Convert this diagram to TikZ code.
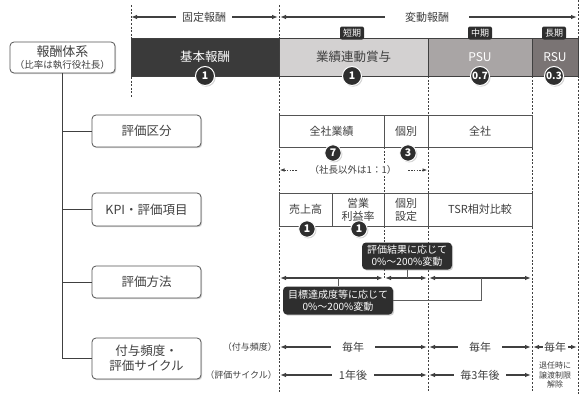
\documentclass[tikz,border=0pt]{standalone}
\usepackage{fontspec}
\setmainfont{Noto Sans CJK JP}
\usetikzlibrary{arrows.meta,shadows}
\definecolor{ink}{HTML}{404040}
\definecolor{barA}{HTML}{3A3A3A}
\definecolor{barB}{HTML}{D3D1D1}
\definecolor{barC}{HTML}{A9A5A5}
\definecolor{barD}{HTML}{7A7474}
\definecolor{dk}{HTML}{2E2E2E}
\newcommand{\fs}[1]{\fontsize{#1}{\dimexpr #1pt*6/5\relax}\selectfont}
\tikzset{
  guide/.style={draw=ink, line width=0.9pt, dash pattern=on 2pt off 1.6pt},
  arr/.style={{Latex[length=6pt,width=4.5pt]}-{Latex[length=6pt,width=4.5pt]}, line width=1.1pt, draw=ink},
  darr/.style={{Latex[length=4.5pt,width=3.5pt]}-{Latex[length=4.5pt,width=3.5pt]}, line width=0.6pt, draw=ink, dash pattern=on 1.5pt off 1.2pt},
  gap/.style={fill=white, inner ysep=1pt, text=ink},
  lbox/.style={draw=ink!90, line width=0.8pt, rounded corners=4pt, fill=white, align=center, text=ink, inner sep=0pt,
     drop shadow={opacity=0.35, shadow xshift=1.2pt, shadow yshift=-1.2pt}},
  seg/.style={draw=ink, line width=0.8pt, inner sep=0pt, minimum height=38pt, font=\fs{12.5}},
  cell/.style={draw=ink!90, line width=0.8pt, fill=white, inner sep=0pt, align=center, text=ink, font=\fs{11}},
  circ/.style={circle, fill=dk, draw=white, line width=1pt, text=white, font=\bfseries\fs{10.5}, inner sep=0pt,
     drop shadow={opacity=0.35, shadow xshift=1.2pt, shadow yshift=-1.2pt}},
  badge/.style={rounded corners=2pt, fill=dk, text=white, font=\fs{9}, inner sep=0pt, minimum width=24pt, minimum height=13pt},
  callout/.style={rounded corners=4pt, fill=dk, text=white, align=center, inner sep=0pt, font=\fs{10},
     drop shadow={opacity=0.35, shadow xshift=1.2pt, shadow yshift=-1.2pt}},
  conn/.style={draw=ink!85, line width=1pt},
  tree/.style={draw=ink, line width=1pt},
}
\begin{document}
\begin{tikzpicture}[x=1pt,y=-1pt]
\useasboundingbox (0,0) rectangle (587,402);

% vertical guide lines
\coordinate (g1t) at (131,5);   \coordinate (g1b) at (131,97);
\coordinate (g2t) at (279,5);   \coordinate (g2b) at (279,392);
\coordinate (g3t) at (428,76);  \coordinate (g3b) at (428,392);
\coordinate (g4t) at (532,76);  \coordinate (g4b) at (532,392);
\coordinate (g5t) at (578,0);   \coordinate (g5b) at (578,395);
\coordinate (g6t) at (384,147); \coordinate (g6b) at (384,193);
\coordinate (g7t) at (384,226); \coordinate (g7b) at (384,278);
\foreach \a/\b in {g1t/g1b,g2t/g2b,g3t/g3b,g4t/g4b,g5t/g5b,g6t/g6b,g7t/g7b}
  \draw[guide] (\a) -- (\b);

% top arrows
\coordinate (fa) at (131,17); \coordinate (fb) at (278,17);
\coordinate (va) at (280,17); \coordinate (vb) at (577,17);
\draw[arr] (fa) -- (fb);
\draw[arr] (va) -- (vb);
\node[gap, inner xsep=6pt, font=\fs{11}] (tf) at (204,17) {固定報酬};
\node[gap, inner xsep=20pt, font=\fs{11}] (tv) at (427,17) {変動報酬};

% bar
\node[seg, fill=barA, text=white, minimum width=148pt] (s1) at (205,57) {基本報酬};
\node[seg, fill=barB, text=ink, minimum width=149pt] (s2) at (353.5,57) {業績連動賞与};
\node[seg, fill=barC, text=white, minimum width=104pt, font=\fs{12}] (s3) at (480,57) {PSU};
\node[seg, fill=barD, text=white, minimum width=46pt, font=\fs{12}] (s4) at (555,57) {RSU};
\node[badge] (k1) at (352,33) {短期};
\node[badge] (k2) at (480,33) {中期};
\node[badge] (k3) at (554,33) {長期};
\node[circ, minimum size=19pt] (c1) at (205,76) {1};
\node[circ, minimum size=19pt] (c2) at (352,76) {1};
\node[circ, minimum size=19pt, font=\bfseries\fs{10}] (c3) at (480,76) {0.7};
\node[circ, minimum size=19pt, font=\bfseries\fs{10}] (c4) at (554,76) {0.3};

% left tree
\node[lbox, minimum width=105pt, minimum height=31pt] (hb) at (62.5,57.5)
  {{\fs{13}報酬体系}\\[0pt]{\fs{9.5}（比率は執行役社長）}};
\node[lbox, minimum width=109pt, minimum height=32pt, font=\fs{12.5}] (b1) at (146.5,131) {評価区分};
\node[lbox, minimum width=109pt, minimum height=33pt, font=\fs{12.5}] (b2) at (146.5,209.5) {KPI・評価項目};
\node[lbox, minimum width=109pt, minimum height=32pt, font=\fs{12.5}] (b3) at (146.5,282) {評価方法};
\node[lbox, minimum width=109pt, minimum height=41pt, font=\fs{12.5}] (b4) at (146.5,358.5) {付与頻度・\\評価サイクル};
\draw[tree] (hb.south) -- (hb.south |- b4.west) -- (b4.west);
\draw[tree] (hb.south |- b1.west) -- (b1.west);
\draw[tree] (hb.south |- b2.west) -- (b2.west);
\draw[tree] (hb.south |- b3.west) -- (b3.west);

% 評価区分 row
\node[cell, minimum width=105pt, minimum height=32pt] (r1a) at (331.5,131) {全社業績};
\node[cell, minimum width=44pt, minimum height=32pt] (r1b) at (406,131) {個別};
\node[cell, minimum width=104pt, minimum height=32pt] (r1c) at (480,131) {全社};
\node[circ, minimum size=16.5pt] (c7) at (333,153) {7};
\node[circ, minimum size=16.5pt] (c8) at (408,153) {3};
\coordinate (da) at (280,170); \coordinate (db) at (427,170);
\draw[darr] (da) -- (db);
\node[gap, inner xsep=12pt, font=\fs{9.5}] (dt) at (353,170) {（社長以外は1：1）};

% KPI row
\node[cell, minimum width=53pt, minimum height=33pt] (r2a) at (305.5,209.5) {売上高};
\node[cell, minimum width=52pt, minimum height=33pt] (r2b) at (358,209.5) {営業\\利益率};
\node[cell, minimum width=44pt, minimum height=33pt] (r2c) at (406,209.5) {個別\\設定};
\node[cell, minimum width=104pt, minimum height=33pt] (r2d) at (480,209.5) {TSR相対比較};
\node[circ, minimum size=16.5pt] (c9) at (307,229) {1};
\node[circ, minimum size=16.5pt] (c10) at (359,229) {1};

% 評価方法 row
\coordinate (m1l) at (280,278); \coordinate (m1r) at (383,278);
\coordinate (m2l) at (385,278); \coordinate (m2r) at (427,278);
\coordinate (m3l) at (429,278); \coordinate (m3r) at (531,278);
\coordinate (m3k) at (481,278);
\draw[arr] (m1l) -- (m1r);
\draw[arr] (m2l) -- (m2r);
\draw[arr] (m3l) -- (m3r);
\node[callout, minimum width=90pt, minimum height=27pt] (co1) at (407,256) {評価結果に応じて\\0\%～200\%変動};
\node[callout, minimum width=110pt, minimum height=28pt] (co2) at (338,300.5) {目標達成度等に応じて\\0\%～200\%変動};
\draw[conn] (co1.south) -- (co1.south |- m2l);
\draw[conn] (co2.north |- m1l) -- (co2.north);
\draw[conn] (co2.east) -- (co2.east -| m3k) -- (m3k);

% 付与頻度 / 評価サイクル rows
\coordinate (p1l) at (280,347); \coordinate (p1r) at (427,347);
\coordinate (p2l) at (429,347); \coordinate (p2r) at (531,347);
\coordinate (p3l) at (533,347); \coordinate (p3r) at (577,347);
\coordinate (q1l) at (280,375); \coordinate (q1r) at (427,375);
\coordinate (q2l) at (429,375); \coordinate (q2r) at (531,375);
\draw[arr] (p1l) -- (p1r);
\draw[arr] (p2l) -- (p2r);
\draw[arr] (p3l) -- (p3r);
\draw[arr] (q1l) -- (q1r);
\draw[arr] (q2l) -- (q2r);
\node[gap, inner xsep=11pt, font=\fs{11}] (t1) at (353,347) {毎年};
\node[gap, inner xsep=11pt, font=\fs{11}] (t2) at (480,347) {毎年};
\node[gap, inner xsep=1.5pt, font=\fs{11}] (t3) at (555,347) {毎年};
\node[gap, inner xsep=7pt, font=\fs{11}] (t4) at (353,375) {1年後};
\node[gap, inner xsep=6pt, font=\fs{11}] (t5) at (480,375) {毎3年後};
\node[text=ink, align=center, font=\fs{8}, inner sep=0pt] (t6) at (555,375) {退任時に\\譲渡制限\\解除};
\node[anchor=east, text=ink, font=\fs{9}, inner sep=1pt] (l1) at (278,347) {（付与頻度）};
\node[anchor=east, text=ink, font=\fs{9}, inner sep=1pt] (l2) at (278,375) {（評価サイクル）};
\end{tikzpicture}
\end{document}
